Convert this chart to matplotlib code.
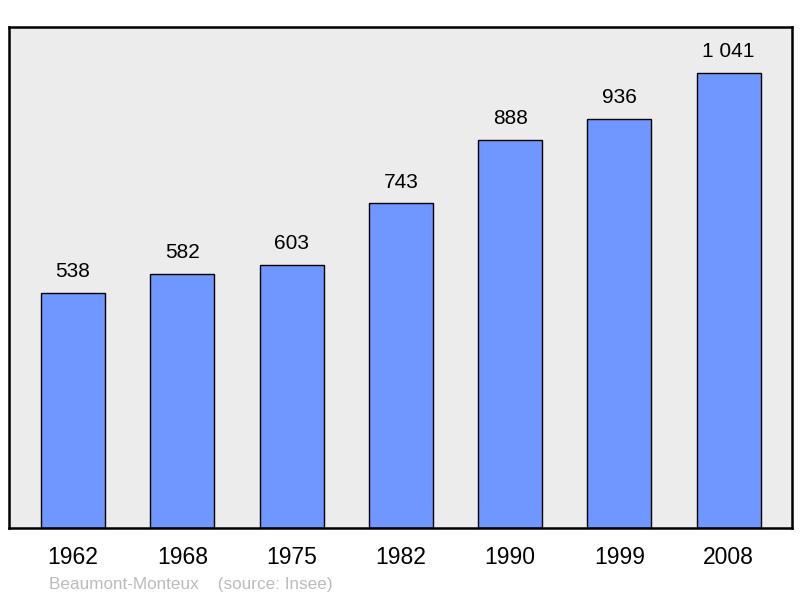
import matplotlib.pyplot as plt

plt.rcParams['font.family'] = ['Liberation Sans', 'DejaVu Sans']

# Données de population
annees = ['1962', '1968', '1975', '1982', '1990', '1999', '2008']
population = [538, 582, 603, 743, 888, 936, 1041]
etiquettes = ['538', '582', '603', '743', '888', '936', '1 041']

fig = plt.figure(figsize=(8, 5.98), dpi=100)
ax = fig.add_axes([0.01125, 0.117, 0.97875, 0.8378])
ax.set_facecolor('#ececec')

x = range(len(annees))
barres = ax.bar(x, population, width=0.585, color='#7096ff',
                edgecolor='black', linewidth=1.0)

# Valeurs au-dessus des barres
for xi, val, txt in zip(x, population, etiquettes):
    ax.annotate(txt, (xi, val), xytext=(0, 11.5), textcoords='offset points',
                ha='center', va='baseline', fontsize=15)

ax.set_xlim(-0.586, 6.58)
ax.set_ylim(0, 1147)
ax.set_xticks(list(x))
ax.set_xticklabels(annees, fontsize=16.5)
ax.tick_params(axis='x', length=0, pad=13)
ax.set_yticks([])
for s in ax.spines.values():
    s.set_linewidth(1.8)

fig.text(49 / 800, 1 - 585 / 598, 'Beaumont-Monteux    (source: Insee)',
         color='#bbbbbb', fontsize=12.3, va='center', ha='left')

plt.savefig('out.png', dpi=100)
